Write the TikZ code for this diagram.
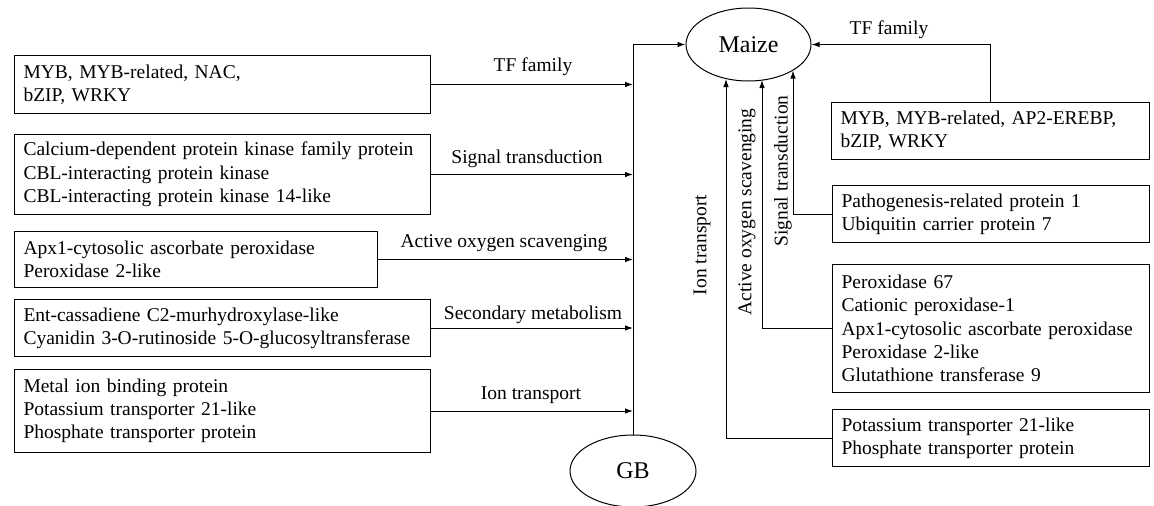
\documentclass[tikz,border=0pt]{standalone}
\usepackage{fontspec}
\setmainfont{Liberation Serif}
\usetikzlibrary{arrows.meta,shapes.geometric}
\begin{document}
\begin{tikzpicture}[x=1pt,y=-1pt,
  every node/.style={font=\fontsize{19.5}{23.3}\selectfont},
  gbox/.style={draw, line width=1pt, anchor=north west, inner xsep=9pt, inner ysep=0pt, align=left, execute at begin node={\hyphenpenalty=10000}},
  oval/.style={draw, line width=1pt, ellipse, inner sep=0pt, font=\fontsize{24}{28}\selectfont},
  arr/.style={line width=1pt, -{Latex[length=8pt,width=5.5pt]}},
  lab/.style={inner sep=0pt}
]
\useasboundingbox (0,0) rectangle (1154,506);
\fill[white] (0,0) rectangle (1154,506);
% ellipses
\node[oval, minimum width=125pt, minimum height=73pt] (maize) at (748.5,44.5) {Maize};
\node[oval, minimum width=126pt, minimum height=72pt] (gb) at (633,471) {GB};
% left boxes
\node[gbox, text width=398pt, minimum height=58pt] (b1) at (14,55) {MYB, MYB-related, NAC,\\bZIP, WRKY};
\node[gbox, text width=398pt, minimum height=80pt] (b2) at (14,134) {Calcium-dependent protein kinase family protein\\CBL-interacting protein kinase\\CBL-interacting protein kinase 14-like};
\node[gbox, text width=345pt, minimum height=56pt] (b3) at (14,231) {Apx1-cytosolic ascorbate peroxidase\\Peroxidase 2-like};
\node[gbox, text width=398pt, minimum height=57pt] (b4) at (14,299) {Ent-cassadiene C2-murhydroxylase-like\\Cyanidin 3-O-rutinoside 5-O-glucosyltransferase};
\node[gbox, text width=398pt, minimum height=83pt] (b5) at (14,369) {Metal ion binding protein\\Potassium transporter 21-like\\Phosphate transporter protein};
% right boxes
\node[gbox, text width=300pt, minimum height=57pt] (r1) at (831,102) {MYB, MYB-related, AP2-EREBP,\\bZIP, WRKY};
\node[gbox, text width=299pt, minimum height=57pt] (r2) at (832,185) {Pathogenesis-related protein 1\\Ubiquitin carrier protein 7};
\node[gbox, text width=299pt, minimum height=128pt] (r3) at (832,264) {Peroxidase 67\\Cationic peroxidase-1\\Apx1-cytosolic ascorbate peroxidase\\Peroxidase 2-like\\Glutathione transferase 9};
\node[gbox, text width=299pt, minimum height=57pt] (r4) at (832,409) {Potassium transporter 21-like\\Phosphate transporter protein};
% arrow end points on Maize border
\coordinate (m1) at (793,70.5);
\coordinate (m2) at (762,80);
\coordinate (m3) at (726,79);
% left connectors
\draw[arr] (gb.north) |- (maize.west);
\draw[arr] (b1.east) -- (b1.east -| gb.north);
\draw[arr] (b2.east) -- (b2.east -| gb.north);
\draw[arr] (b3.east) -- (b3.east -| gb.north);
\draw[arr] (b4.east) -- (b4.east -| gb.north);
\draw[arr] (b5.east) -- (b5.east -| gb.north);
% right connectors
\draw[arr] (r1.north) |- (maize.east);
\draw[arr] (r2.west) -| (m1);
\draw[arr] (r3.west) -| (m2);
\draw[arr] (r4.west) -| (m3);
% labels
\node[lab] (l1) at (533,67) {TF family};
\node[lab] (l2) at (527,159) {Signal transduction};
\node[lab] (l3) at (504,243) {Active oxygen scavenging};
\node[lab] (l4) at (533,315) {Secondary metabolism};
\node[lab] (l5) at (531,395) {Ion transport};
\node[lab] (l6) at (889,30) {TF family};
\node[lab, rotate=90] (l7) at (702,245) {Ion transport};
\node[lab, rotate=90] (l8) at (747,212) {Active oxygen scavenging};
\node[lab, rotate=90] (l9) at (783,171) {Signal transduction};
\end{tikzpicture}
\end{document}
